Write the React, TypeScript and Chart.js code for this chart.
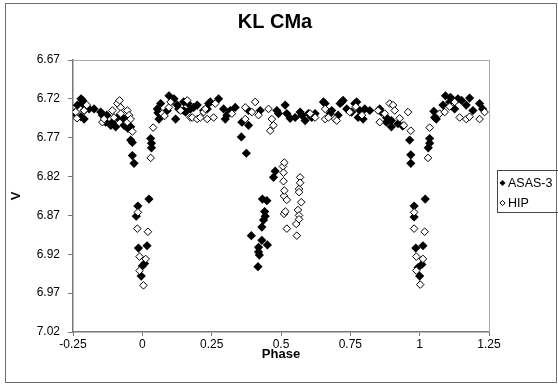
import React, { useEffect, useRef } from "react";
import { Chart, registerables } from "chart.js";

Chart.register(...registerables);

const chartTitle = "KL CMa";
const xTitle = "Phase";
const yTitle = "V";
const seriesNames = ["ASAS-3", "HIP"];
const xTickValues = [-0.25, 0, 0.25, 0.5, 0.75, 1, 1.25];
const xTickLabels = ["-0.25", "0", "0.25", "0.5", "0.75", "1", "1.25"];
const yTickValues = [6.67, 6.72, 6.77, 6.82, 6.87, 6.92, 6.97, 7.02];
const yTickLabels = ["6.67", "6.72", "6.77", "6.82", "6.87", "6.92", "6.97", "7.02"];

const asasPhase = [
  -0.245, -0.234, -0.222, -0.221, -0.216, -0.215, -0.21, -0.21, -0.192, -0.174, -0.15, -0.144, -0.132, -0.128,
  -0.114, -0.108, -0.096, -0.09, -0.066, -0.066, -0.052, -0.042,
  -0.042, -0.036, -0.036, -0.03, -0.016, -0.022, -0.014, -0.004, 0.0, 0.008, 0.017, 0.024, 0.03, 0.033, 0.033,
  0.054, 0.056, 0.06, 0.066, 0.09, 0.096, 0.114, 0.108, 0.12, 0.126, 0.131, 0.149, 0.149, 0.156, 0.165, 0.174,
  0.185, 0.198, 0.221, 0.234, 0.239, 0.245, 0.275, 0.293, 0.299, 0.305, 0.317, 0.335, 0.359, 0.383, 0.383,
  0.357, 0.375, 0.393, 0.417, 0.419, 0.419, 0.422, 0.431, 0.431, 0.433, 0.437, 0.441, 0.443, 0.449, 0.451,
  0.473, 0.479,
  0.425, 0.485, 0.491, 0.515, 0.521, 0.533, 0.551, 0.569, 0.575, 0.587, 0.599, 0.611, 0.623, 0.653, 0.659,
  0.677, 0.683, 0.706, 0.713, 0.719, 0.724, 0.737, 0.755, 0.766, 0.773, 0.778, 0.784, 0.796, 0.802, 0.82,
  0.856, 0.862, 0.88, 0.88, 0.898, 0.898, 0.922, 0.939,
  0.964, 0.968, 0.968, 0.98, 0.98, 0.986, 0.994, 1.0, 1.008, 1.012, 1.02, 1.031, 1.036, 1.036,
  1.051, 1.054, 1.06, 1.084, 1.093, 1.108, 1.111, 1.126, 1.138, 1.151, 1.168, 1.18, 1.192, 1.216, 1.227,
];
const asasV = [
  6.738, 6.728, 6.743, 6.72, 6.726, 6.722, 6.735, 6.746, 6.733, 6.733, 6.737, 6.741, 6.75, 6.741,
  6.754, 6.75, 6.756, 6.744, 6.746, 6.754, 6.758, 6.756,
  6.773, 6.776, 6.793, 6.803, 6.858, 6.871, 6.912, 6.948, 6.935, 6.932, 6.909, 6.849, 6.771, 6.777, 6.783,
  6.733, 6.738, 6.746, 6.726, 6.735, 6.716, 6.72, 6.722, 6.746, 6.728, 6.733, 6.724, 6.735, 6.737, 6.726, 6.733,
  6.731, 6.728, 6.735, 6.733, 6.726, 6.724, 6.72, 6.733, 6.746, 6.741, 6.735, 6.731, 6.75, 6.735, 6.754,
  6.769, 6.79, 6.896, 6.936, 6.911, 6.917, 6.921, 6.885, 6.902, 6.849, 6.876, 6.865, 6.871, 6.851, 6.908,
  6.821, 6.813,
  6.735, 6.735, 6.739, 6.728, 6.739, 6.745, 6.744, 6.737, 6.741, 6.748, 6.739, 6.744, 6.739, 6.724, 6.726,
  6.739, 6.735, 6.741, 6.726, 6.724, 6.722, 6.733, 6.737, 6.726, 6.724, 6.744, 6.735, 6.746, 6.733, 6.735,
  6.733, 6.737, 6.744, 6.75, 6.748, 6.756, 6.752, 6.755,
  6.773, 6.792, 6.803, 6.858, 6.872, 6.912, 6.937, 6.948, 6.933, 6.909, 6.849, 6.783, 6.771, 6.777,
  6.736, 6.744, 6.746, 6.728, 6.716, 6.724, 6.718, 6.733, 6.72, 6.722, 6.728, 6.719, 6.735, 6.726, 6.733,
];

const hipPhase = [
  -0.24, -0.236, -0.21, -0.2, -0.144, -0.138, -0.108, -0.102, -0.09, -0.082, -0.078, -0.078, -0.054, -0.054,
  -0.048, -0.042, -0.036,
  -0.018, -0.016, -0.01, -0.01, 0.004, 0.012, 0.02, 0.03, 0.039,
  0.072, 0.08, 0.096, 0.102, 0.138, 0.162, 0.174, 0.18, 0.198, 0.209, 0.221, 0.227, 0.234, 0.257, 0.263,
  0.323, 0.371, 0.371, 0.395, 0.407, 0.419, 0.455, 0.461, 0.467, 0.473,
  0.507, 0.509, 0.509, 0.511, 0.511, 0.512, 0.512, 0.516, 0.521, 0.521, 0.555, 0.557, 0.561, 0.565, 0.565,
  0.565, 0.565, 0.569, 0.569, 0.573,
  0.605, 0.623, 0.659, 0.659, 0.671, 0.695, 0.701, 0.748, 0.77, 0.792, 0.85, 0.856, 0.874, 0.892, 0.904,
  0.91, 0.928, 0.943, 0.958,
  0.968, 0.98, 0.98, 0.988, 0.988, 1.002, 1.012, 1.018, 1.03, 1.036,
  1.072, 1.09, 1.108, 1.126, 1.144, 1.168, 1.18, 1.216, 1.234,
];
const hipV = [
  6.737, 6.745, 6.735, 6.728, 6.75, 6.746, 6.735, 6.744, 6.726, 6.722, 6.731, 6.739, 6.735, 6.75,
  6.741, 6.746, 6.762,
  6.887, 6.866, 6.923, 6.941, 6.96, 6.926, 6.891, 6.796, 6.757,
  6.739, 6.742, 6.731, 6.724, 6.735, 6.722, 6.744, 6.744, 6.746, 6.744, 6.737, 6.733, 6.746, 6.744, 6.726,
  6.739, 6.731, 6.746, 6.737, 6.724, 6.741, 6.733, 6.761, 6.746, 6.754,
  6.807, 6.815, 6.826, 6.845, 6.868, 6.802, 6.838, 6.865, 6.85, 6.887, 6.881, 6.896, 6.863, 6.836, 6.84,
  6.87, 6.875, 6.821, 6.828, 6.853,
  6.739, 6.744, 6.733, 6.746, 6.744, 6.746, 6.748, 6.737, 6.73, 6.741, 6.735, 6.75, 6.739, 6.726, 6.728,
  6.735, 6.745, 6.754, 6.737,
  6.761, 6.866, 6.887, 6.923, 6.941, 6.959, 6.926, 6.891, 6.796, 6.757,
  6.739, 6.737, 6.73, 6.724, 6.744, 6.746, 6.743, 6.746, 6.737,
];

const FONT = "'Liberation Sans', Arial, Helvetica, sans-serif";

function diamond(ctx: CanvasRenderingContext2D, x: number, y: number, r: number) {
  ctx.beginPath();
  ctx.moveTo(x, y - r);
  ctx.lineTo(x + r, y);
  ctx.lineTo(x, y + r);
  ctx.lineTo(x - r, y);
  ctx.closePath();
}

const framePlugin = {
  id: "frame",
  beforeDraw(chart: any) {
    const ctx = chart.ctx as CanvasRenderingContext2D;
    ctx.save();
    ctx.fillStyle = "#ffffff";
    ctx.fillRect(0, 0, chart.width, chart.height);
    ctx.strokeStyle = "#6e6e6e";
    ctx.lineWidth = 1;
    ctx.strokeRect(5.5, 3.5, 551, 379);
    ctx.fillStyle = "#000";
    ctx.font = `bold 20px ${FONT}`;
    ctx.textAlign = "center";
    ctx.textBaseline = "middle";
    ctx.fillText(chartTitle, 275, 22);
    ctx.restore();
  },
  beforeDatasetsDraw(chart: any) {
    const { ctx, chartArea } = chart;
    ctx.save();
    ctx.strokeStyle = "#a8a8a8";
    ctx.lineWidth = 1;
    ctx.beginPath();
    ctx.moveTo(chartArea.left, Math.round(chartArea.top) + 0.5);
    ctx.lineTo(chartArea.right, Math.round(chartArea.top) + 0.5);
    ctx.moveTo(Math.round(chartArea.right) + 0.5, chartArea.top);
    ctx.lineTo(Math.round(chartArea.right) + 0.5, chartArea.bottom);
    ctx.stroke();
    ctx.restore();
  },
  afterDraw(chart: any) {
    const ctx = chart.ctx as CanvasRenderingContext2D;
    ctx.save();
    ctx.strokeStyle = "#444444";
    ctx.lineWidth = 1;
    ctx.strokeRect(497.5, 170.5, 64, 42);
    ctx.font = `12.5px ${FONT}`;
    ctx.textBaseline = "middle";
    ctx.textAlign = "left";
    ctx.fillStyle = "#000";
    diamond(ctx, 502.5, 183, 3);
    ctx.fill();
    ctx.fillText(seriesNames[0], 508, 183.5);
    diamond(ctx, 502.5, 203, 2.6);
    ctx.fillStyle = "#fff";
    ctx.fill();
    ctx.strokeStyle = "#000";
    ctx.stroke();
    ctx.fillStyle = "#000";
    ctx.fillText(seriesNames[1], 508, 203.5);
    ctx.restore();
  },
};

export default function App() {
  const ref = useRef<HTMLCanvasElement | null>(null);

  useEffect(() => {
    if (!ref.current) return;
    const asasData = asasPhase.map((x, i) => ({ x, y: asasV[i] }));
    const hipData = hipPhase.map((x, i) => ({ x, y: hipV[i] }));

    const chart = new Chart(ref.current, {
      type: "scatter",
      data: {
        datasets: [
          {
            label: seriesNames[0],
            data: asasData,
            pointStyle: "rectRot",
            pointRadius: 4.6,
            pointHoverRadius: 4.6,
            backgroundColor: "#000000",
            borderColor: "#000000",
            borderWidth: 0,
            order: 2,
          },
          {
            label: seriesNames[1],
            data: hipData,
            pointStyle: "rectRot",
            pointRadius: 3.8,
            pointHoverRadius: 3.8,
            backgroundColor: "#ffffff",
            borderColor: "#000000",
            borderWidth: 1,
            order: 1,
          },
        ],
      },
      options: {
        responsive: false,
        animation: false,
        devicePixelRatio: 1,
        layout: { padding: { left: 0, right: 69, top: 60, bottom: 0 } },
        plugins: {
          legend: { display: false },
          tooltip: { enabled: false },
          title: { display: false },
        },
        scales: {
          x: {
            type: "linear",
            min: -0.25,
            max: 1.25,
            afterBuildTicks: (s: any) => {
              s.ticks = xTickValues.map((v) => ({ value: v }));
            },
            afterFit: (s: any) => {
              s.height = 53;
            },
            ticks: {
              color: "#000",
              font: { family: FONT, size: 12 },
              padding: 1,
              maxRotation: 0,
              autoSkip: false,
              callback: (v: any) => {
                const i = xTickValues.indexOf(Number(v));
                return i >= 0 ? xTickLabels[i] : "";
              },
            },
            grid: { drawOnChartArea: false, drawTicks: true, tickLength: 4, color: "#777" },
            border: { display: true, color: "#777", width: 1.5 },
            title: {
              display: true,
              text: xTitle,
              color: "#000",
              font: { family: FONT, size: 13, weight: "bold" },
              padding: { top: 0, bottom: 23 },
            },
          },
          y: {
            type: "linear",
            reverse: true,
            min: 6.67,
            max: 7.02,
            afterBuildTicks: (s: any) => {
              s.ticks = yTickValues.map((v) => ({ value: v }));
            },
            afterFit: (s: any) => {
              s.width = 73;
            },
            ticks: {
              color: "#000",
              font: { family: FONT, size: 12 },
              padding: 8,
              autoSkip: false,
              callback: (v: any) => {
                const i = yTickValues.findIndex((t) => Math.abs(t - Number(v)) < 1e-6);
                return i >= 0 ? yTickLabels[i] : "";
              },
            },
            grid: { drawOnChartArea: false, drawTicks: true, tickLength: 5, color: "#777" },
            border: { display: true, color: "#777", width: 1.5 },
            title: {
              display: true,
              text: yTitle,
              color: "#000",
              font: { family: FONT, size: 13, weight: "bold" },
              padding: { top: 9, bottom: 0 },
            },
          },
        },
      },
      plugins: [framePlugin],
    });
    return () => chart.destroy();
  }, []);

  return (
    <div style={{ position: "fixed", left: 0, top: 0, width: 558, height: 385, background: "#fff" }}>
      <canvas ref={ref} width={558} height={385} style={{ display: "block", width: 558, height: 385 }} />
    </div>
  );
}
